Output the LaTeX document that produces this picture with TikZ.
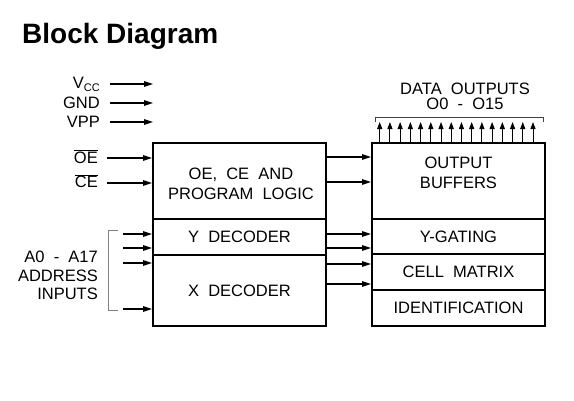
\documentclass[tikz,border=0pt]{standalone}
\usepackage{fontspec}
\setmainfont{Liberation Sans}
\usetikzlibrary{arrows.meta, positioning, calc}

\begin{document}
\begin{tikzpicture}[x=1pt, y=-1pt,
  blk/.style={draw, line width=2pt, minimum width=173pt, inner sep=0pt, align=center, font=\fontsize{16.5}{20}\selectfont},
  txt/.style={inner sep=0pt, align=center, font=\fontsize{16.5}{20}\selectfont},
  lbl/.style={anchor=east, inner sep=0pt, font=\fontsize{16.5}{19}\selectfont},
  arr/.style={-{Triangle[length=9pt,width=5.5pt]}, line width=1.2pt},
  dout/.style={-{Triangle[length=7pt,width=5pt]}, line width=1pt}
]
  \useasboundingbox (0,0) rectangle (574,400);
  \node[anchor=base west, inner sep=0pt, font=\bfseries\fontsize{28}{32}\selectfont] (title) at (22,43) {Block Diagram};

  % left block
  \node[blk, minimum height=76pt] (logic) at (239.5,181) {};
  \node[txt] (logictxt) at (241,184) {OE,~~CE~~AND\\PROGRAM~~LOGIC};
  \node[blk, minimum height=36pt] (ydec) at (239.5,237) {Y~~DECODER};
  \node[blk, minimum height=71pt] (xdec) at (239.5,290.5) {X~~DECODER};

  % right block
  \node[blk, minimum height=76pt] (buffers) at (458.5,181) {};
  \node[txt] (buftxt) at (458.5,173) {OUTPUT\\BUFFERS};
  \node[blk, minimum height=35pt] (ygate) at (458.5,236.5) {Y-GATING};
  \node[blk, minimum height=36pt] (cells) at (458.5,272) {CELL~~MATRIX};
  \node[blk, minimum height=36pt] (ident) at (458.5,308) {IDENTIFICATION};

  % inputs
  \node[lbl] (vcc) at (100,84) {V\raisebox{-0.35ex}{\fontsize{11}{11}\selectfont CC}};
  \node[lbl] (gnd) at (100,103) {GND};
  \node[lbl] (vpp) at (100,122) {VPP};
  \node[lbl] (oe) at (98,156.5) {$\overline{\mbox{OE}}$};
  \node[lbl] (ce) at (98,181) {$\overline{\mbox{CE}}$};
  \foreach \n in {vcc,gnd,vpp}
    \draw[arr] ([xshift=10pt]\n.east) -- ++(43,0);
  \draw[arr] ([xshift=9pt]oe.east |- 0,158) -- (logic.west |- 0,158);
  \draw[arr] ([xshift=9pt]ce.east |- 0,183) -- (logic.west |- 0,183);

  \node[lbl, align=right, font=\fontsize{16.5}{18.5}\selectfont] (addr) at (98,275.5) {A0~~-~~A17\\ADDRESS\\INPUTS};
  \draw[gray, line width=1pt] (118,230) -- (108,230) -- (108,310) -- (118,310);
  \foreach \y/\n in {234/ydec, 248/ydec, 263/xdec, 309/xdec}
    \draw[arr] (123,\y) -- (\n.west |- 0,\y);

  % between blocks
  \foreach \y in {157,182}
    \draw[arr] (logic.east |- 0,\y) -- (buffers.west |- 0,\y);
  \foreach \y in {234,248}
    \draw[arr] (ydec.east |- 0,\y) -- (ygate.west |- 0,\y);
  \foreach \y in {264,284}
    \draw[arr] (xdec.east |- 0,\y) -- (cells.west |- 0,\y);

  % outputs
  \node[txt, font=\fontsize{16.5}{15}\selectfont] (douttxt) at (465,96) {DATA~~OUTPUTS\\O0~~-~~O15};
  \draw[darkgray, line width=0.8pt] (375,122) -- (375,117.5) -- (543,117.5) -- (543,122);
  \foreach \i in {0,...,15}
    \draw[dout] ($(buffers.north west)+(8.7+\i*10.22,0)$) -- ++(0,-20);
\end{tikzpicture}
\end{document}
